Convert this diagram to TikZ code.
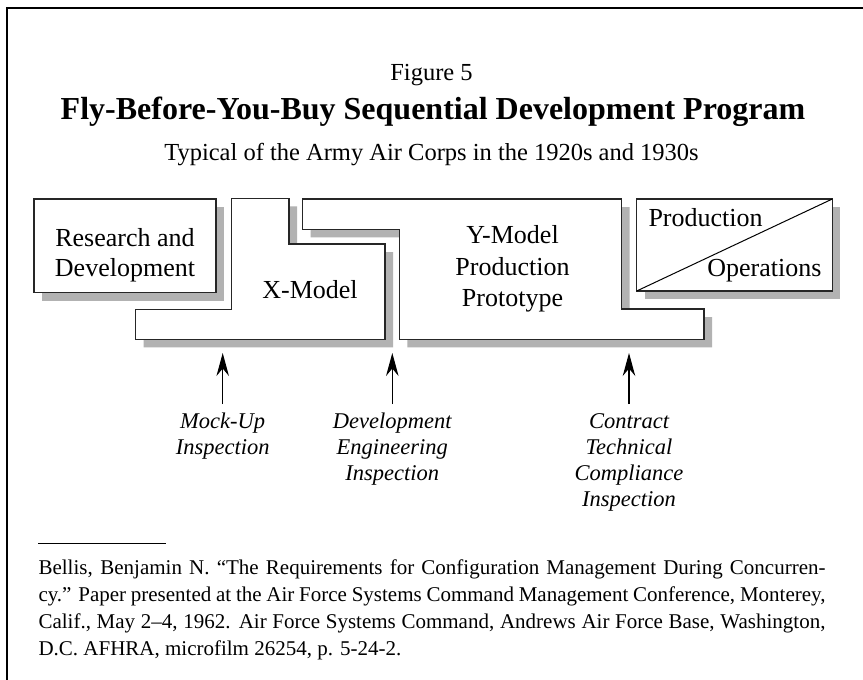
\documentclass[tikz,border=0pt]{standalone}
\usepackage{fontspec}
\setmainfont{Liberation Serif}
\usetikzlibrary{arrows.meta}
\begin{document}
\begin{tikzpicture}[x=1pt,y=-1pt,
  blk/.style={draw=black!85,line width=1.5pt,fill=white,line join=miter},
  shd/.style={fill=black!30},
  btxt/.style={font=\fontsize{26}{30}\selectfont,inner sep=0pt,anchor=base},
  lab/.style={font=\fontsize{22.5}{27}\selectfont\itshape,inner sep=0pt,anchor=base},
  fn/.style={font=\fontsize{21}{27}\selectfont,inner sep=0pt,anchor=base west},
  uparrow/.style={-{Stealth[length=23pt,width=12.5pt]},line width=1.1pt}]
\useasboundingbox (0,0) rectangle (863,680);
\fill[white] (0,0) rectangle (863,680);
\draw[line width=2pt] (6.5,680) -- (6.5,7.5) -- (863,7.5);

% titles
\node[inner sep=0pt,anchor=base,font=\fontsize{24.5}{28}\selectfont] (fig) at (431.5,80) {Figure 5};
\node[inner sep=0pt,anchor=base,font=\fontsize{32}{36}\selectfont\bfseries] (title) at (433,119) {Fly-Before-You-Buy Sequential Development Program};
\node[inner sep=0pt,anchor=base,font=\fontsize{24.5}{28}\selectfont] (sub) at (431.5,160) {Typical of the Army Air Corps in the 1920s and 1930s};

% Research and Development
\fill[shd] (42,207) rectangle (224,300.7);
\draw[blk] (34,199) rectangle (216,292.7);
\node[btxt] (rd1) at (125,246.7) {Research and};
\node[btxt] (rd2) at (125,276) {Development};

% X-Model
\fill[shd] (239.7,206.3) -- (297,206.3) -- (297,252) -- (393,252) -- (393,347.3) -- (143.7,347.3) -- (143.7,317.3) -- (239.7,317.3) -- cycle;
\draw[blk] (231.7,198.3) -- (289,198.3) -- (289,244) -- (385,244) -- (385,339.3) -- (135.7,339.3) -- (135.7,309.3) -- (231.7,309.3) -- cycle;
\node[btxt] (xm) at (310,298.3) {X-Model};

% Y-Model
\fill[shd] (310.7,207) -- (629.7,207) -- (629.7,317) -- (712,317) -- (712,347.3) -- (407.3,347.3) -- (407.3,237.3) -- (310.7,237.3) -- cycle;
\draw[blk] (302.7,199) -- (621.7,199) -- (621.7,309) -- (704,309) -- (704,339.3) -- (399.3,339.3) -- (399.3,229.3) -- (302.7,229.3) -- cycle;
\node[btxt] (ym1) at (512.5,243.3) {Y-Model};
\node[btxt] (ym2) at (512.5,275) {Production};
\node[btxt] (ym3) at (512.5,306.7) {Prototype};

% Production / Operations
\fill[shd] (644.7,207) rectangle (840.3,299);
\draw[blk] (636.7,199) rectangle (832.3,291);
\draw[line width=1pt] (636.7,291) -- (832.3,199);
\node[btxt,anchor=base west] (pr) at (648.3,226.7) {Production};
\node[btxt,anchor=base east] (op) at (821.7,276.7) {Operations};

% inspection arrows
\coordinate (a1b) at (222.7,404); \coordinate (a1t) at (222.7,353);
\coordinate (a2b) at (392.3,404); \coordinate (a2t) at (392.3,353);
\coordinate (a3b) at (629,404);   \coordinate (a3t) at (629,353);
\draw[uparrow] (a1b) -- (a1t);
\draw[uparrow] (a2b) -- (a2t);
\draw[uparrow] (a3b) -- (a3t);

\node[lab] (l11) at (222.7,428) {Mock-Up};
\node[lab] (l12) at (222.7,454) {Inspection};
\node[lab] (l21) at (392.3,428) {Development};
\node[lab] (l22) at (392.3,454) {Engineering};
\node[lab] (l23) at (392.3,480) {Inspection};
\node[lab] (l31) at (629,428) {Contract};
\node[lab] (l32) at (629,454) {Technical};
\node[lab] (l33) at (629,480) {Compliance};
\node[lab] (l34) at (629,506) {Inspection};

% footnote
\draw[line width=1pt] (38.3,543) -- (166,543);
\node[fn] (f1) at (38.3,574) {\makebox[787pt][s]{Bellis, Benjamin N. “The Requirements for Configuration Management During Concurren-}};
\node[fn] (f2) at (38.3,601) {\makebox[787pt][s]{cy.” Paper presented at the Air Force Systems Command Management Conference, Monterey,}};
\node[fn] (f3) at (38.3,628) {\makebox[787pt][s]{Calif., May 2–4, 1962. Air Force Systems Command, Andrews Air Force Base, Washington,}};
\node[fn] (f4) at (38.3,655) {D.C. AFHRA, microfilm 26254, p. 5-24-2.};
\end{tikzpicture}
\end{document}
